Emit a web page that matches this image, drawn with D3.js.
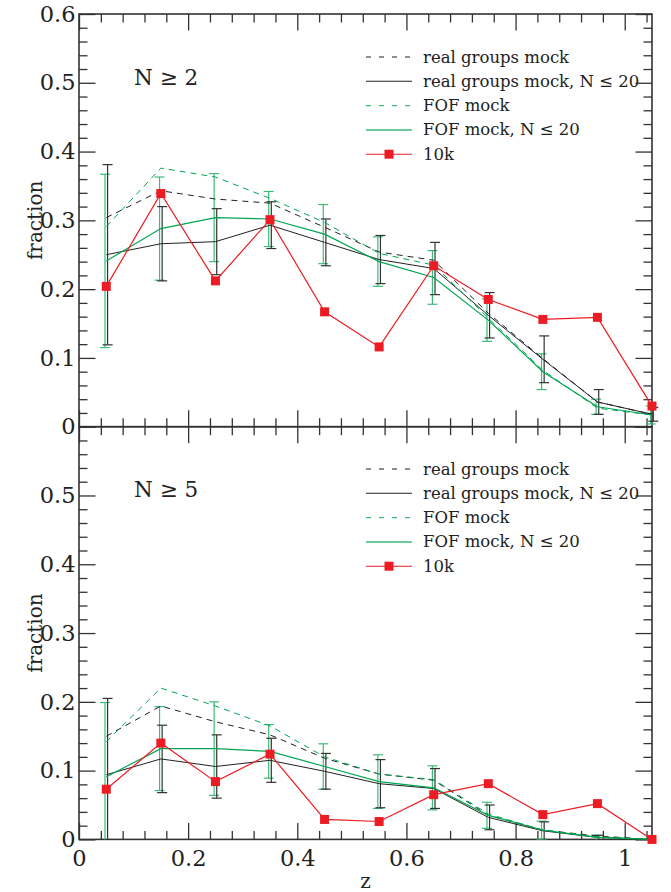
<!DOCTYPE html>
<html>
<head>
<meta charset="utf-8">
<script src="https://cdn.jsdelivr.net/npm/d3@7"></script>
<style>
  html, body { margin: 0; padding: 0; background: #fff; }
  svg { display: block; }
  text { font-family: "DejaVu Serif", "Liberation Serif", serif; fill: #222; }
</style>
</head>
<body>
<svg id="chart" width="671" height="892"></svg>
<script>
// ---------- DATA ----------
const zBins = [0.05, 0.15, 0.25, 0.35, 0.45, 0.55, 0.65, 0.75, 0.85, 0.95, 1.05];

// Panel 1: N >= 2
const realAll2   = [0.304, 0.343, 0.331, 0.325, 0.290, 0.254, 0.242, 0.165, 0.099, 0.036, 0.018];
const realN20_2  = [0.250, 0.266, 0.269, 0.293, 0.268, 0.243, 0.230, 0.162, 0.098, 0.036, 0.018];
const realErr2   = [0.131, 0.054, 0.048, 0.034, 0.034, 0.035, 0.038, 0.033, 0.034, 0.018, 0.010];
const fofAll2    = [0.291, 0.376, 0.363, 0.332, 0.297, 0.252, 0.235, 0.158, 0.082, 0.027, 0.017];
const fofN20_2   = [0.241, 0.288, 0.304, 0.302, 0.280, 0.240, 0.217, 0.155, 0.080, 0.029, 0.017];
const fofErr2    = [0.126, 0.075, 0.064, 0.040, 0.043, 0.036, 0.039, 0.031, 0.026, 0.011, 0.013];
const tenK2      = [0.204, 0.339, 0.212, 0.301, 0.167, 0.116, 0.234, 0.185, 0.156, 0.159, 0.030];

// Panel 2: N >= 5
const realAll5   = [0.150, 0.194, 0.171, 0.152, 0.118, 0.095, 0.086, 0.035, 0.0135, 0.005, 0.0];
const realN20_5  = [0.094, 0.117, 0.106, 0.115, 0.099, 0.081, 0.074, 0.032, 0.0125, 0.003, 0.0];
const realErr5   = [0.111, 0.049, 0.046, 0.032, 0.026, 0.035, 0.029, 0.018, 0.013, 0.003, 0.0];
const fofAll5    = [0.142, 0.220, 0.194, 0.165, 0.120, 0.095, 0.087, 0.037, 0.0135, 0.004, 0.0];
const fofN20_5   = [0.091, 0.132, 0.132, 0.128, 0.106, 0.084, 0.075, 0.035, 0.0135, 0.003, 0.0];
const fofErr5    = [0.108, 0.061, 0.068, 0.039, 0.033, 0.039, 0.032, 0.019, 0.013, 0.003, 0.0];
const tenK5      = [0.073, 0.140, 0.084, 0.124, 0.029, 0.026, 0.065, 0.081, 0.036, 0.052, 0.0];

const panelLabels = ["N \u2265 2", "N \u2265 5"];
const legendLabels = ["real groups mock", "real groups mock, N \u2264 20", "FOF mock", "FOF mock, N \u2264 20", "10k"];
const xTickValues = [0, 0.2, 0.4, 0.6, 0.8, 1];
const yTickValuesTop = [0, 0.1, 0.2, 0.3, 0.4, 0.5, 0.6];
const yTickValuesBottom = [0, 0.1, 0.2, 0.3, 0.4, 0.5];

// ---------- LAYOUT ----------
const left = 79, right = 652;
const panelTop = [14, 426.7];
const panelH = 412.7;
const BLACK = "#222", GREEN = "#00a651", GREEN_ERR = "#3dbb78", RED = "#ed1c24", FRAME = "#333";
const TICK_FONT = 22.5;

const svg = d3.select("#chart");
const x = d3.scaleLinear().domain([0, 1.05]).range([left, right]);

const panels = [
  { label: panelLabels[0], realAll: realAll2, realN20: realN20_2, realErr: realErr2, fofAll: fofAll2, fofN20: fofN20_2, fofErr: fofErr2, tenK: tenK2, yTicks: yTickValuesTop, legendY: 57, labelDy: 71 },
  { label: panelLabels[1], realAll: realAll5, realN20: realN20_5, realErr: realErr5, fofAll: fofAll5, fofN20: fofN20_5, fofErr: fofErr5, tenK: tenK5, yTicks: yTickValuesBottom, legendY: 469, labelDy: 70 }
];

panels.forEach((p, i) => {
  const top = panelTop[i];
  const bottom = top + panelH;
  const y = d3.scaleLinear().domain([0, 0.6]).range([bottom, top]);
  const g = svg.append("g");

  // ticks (all inward)
  const minorX = d3.range(0, 1.05 + 1e-9, 0.04).filter(v => Math.abs(v / 0.2 - Math.round(v / 0.2)) > 1e-6);
  const minorY = d3.range(0, 0.6 + 1e-9, 0.02).filter(v => Math.abs(v / 0.1 - Math.round(v / 0.1)) > 1e-6);
  const majorLen = 16.5, minorLen = 8.5;

  const axBottom = d3.axisBottom(x).tickValues(xTickValues).tickSize(-majorLen).tickFormat(d3.format("~g")).tickPadding(10.5);
  const axBottomMinor = d3.axisBottom(x).tickValues(minorX).tickSize(-minorLen).tickFormat("");
  const axTop = d3.axisTop(x).tickValues(xTickValues).tickSize(-majorLen).tickFormat("");
  const axTopMinor = d3.axisTop(x).tickValues(minorX).tickSize(-minorLen).tickFormat("");
  const axLeft = d3.axisLeft(y).tickValues(p.yTicks).tickSize(-majorLen).tickFormat(d3.format("~g")).tickPadding(3.5);
  const axLeftMajorExtra = d3.axisLeft(y).tickValues(i === 1 ? [0.6] : []).tickSize(-majorLen).tickFormat("");
  const axLeftMinor = d3.axisLeft(y).tickValues(minorY).tickSize(-minorLen).tickFormat("");
  const axRight = d3.axisRight(y).tickValues(d3.range(0, 0.61, 0.1)).tickSize(-majorLen).tickFormat("");
  const axRightMinor = d3.axisRight(y).tickValues(minorY).tickSize(-minorLen).tickFormat("");

  const bx = g.append("g").attr("transform", `translate(0,${bottom})`);
  bx.call(axBottom); bx.append("g").call(axBottomMinor);
  if (i === 0) bx.selectAll("text").remove();
  const tx = g.append("g").attr("transform", `translate(0,${top})`);
  tx.call(axTop); tx.append("g").call(axTopMinor);
  const lx = g.append("g").attr("transform", `translate(${left},0)`);
  lx.call(axLeft); lx.append("g").call(axLeftMajorExtra); lx.append("g").call(axLeftMinor);
  const rx = g.append("g").attr("transform", `translate(${right},0)`);
  rx.call(axRight); rx.append("g").call(axRightMinor);

  g.selectAll(".domain").remove();
  g.selectAll(".tick line").attr("stroke", FRAME).attr("stroke-width", 1.3);
  g.selectAll(".tick text").attr("font-size", TICK_FONT).attr("fill", "#222").style("font-family", '"DejaVu Serif", serif');

  // frame
  g.append("rect").attr("x", left).attr("y", top).attr("width", right - left).attr("height", panelH)
    .attr("fill", "none").attr("stroke", FRAME).attr("stroke-width", 1.6);

  // y label
  g.append("text").attr("transform", `translate(42,${(top + bottom) / 2}) rotate(-90)`)
    .attr("text-anchor", "middle").attr("font-size", 20).text("fraction");

  // panel label
  g.append("text").attr("x", 134).attr("y", top + p.labelDy).attr("font-size", 21.5).text(p.label);

  const line = vals => d3.line().x((d, k) => x(zBins[k])).y(d => y(d))(vals);

  // error bars
  const errBars = (center, err, color, dx) => {
    const eb = g.append("g").attr("stroke", color).attr("stroke-width", 1.2);
    zBins.forEach((z, k) => {
      if (err[k] <= 0) return;
      const xc = x(z) + dx;
      const hi = center[k] + err[k];
      const lo = Math.max(0, center[k] - err[k]);
      eb.append("line").attr("x1", xc).attr("x2", xc).attr("y1", y(hi)).attr("y2", y(lo));
      eb.append("line").attr("x1", xc - 5).attr("x2", xc + 5).attr("y1", y(hi)).attr("y2", y(hi));
      if (lo > 0) eb.append("line").attr("x1", xc - 5).attr("x2", xc + 5).attr("y1", y(lo)).attr("y2", y(lo));
    });
  };
  errBars(p.fofN20, p.fofErr, GREEN_ERR, -1.3);
  errBars(p.realN20, p.realErr, "#333", 1.3);

  // lines
  g.append("path").attr("d", line(p.realAll)).attr("fill", "none").attr("stroke", BLACK).attr("stroke-width", 1).attr("stroke-dasharray", "6,5");
  g.append("path").attr("d", line(p.realN20)).attr("fill", "none").attr("stroke", BLACK).attr("stroke-width", 1);
  g.append("path").attr("d", line(p.fofAll)).attr("fill", "none").attr("stroke", GREEN).attr("stroke-width", 1).attr("stroke-dasharray", "6,5");
  g.append("path").attr("d", line(p.fofN20)).attr("fill", "none").attr("stroke", GREEN).attr("stroke-width", 1.2);
  g.append("path").attr("d", line(p.tenK)).attr("fill", "none").attr("stroke", RED).attr("stroke-width", 1.2);
  g.selectAll("rect.sq").data(p.tenK).enter().append("rect").attr("class", "sq")
    .attr("x", (d, k) => x(zBins[k]) - 4.5).attr("y", d => y(d) - 4.5)
    .attr("width", 9).attr("height", 9).attr("fill", RED);

  // legend
  const styles = [
    { c: BLACK, dash: "5,8" }, { c: BLACK, dash: null }, { c: GREEN_ERR, dash: "5,8" }, { c: GREEN_ERR, dash: null, w: 1.5 }, { c: RED, dash: null, sq: true }
  ];
  const lg = g.append("g");
  legendLabels.forEach((lab, k) => {
    const yy = p.legendY + k * 24.3;
    const s = styles[k];
    const ln = lg.append("line").attr("x1", 366).attr("x2", 412).attr("y1", yy).attr("y2", yy)
      .attr("stroke", s.c).attr("stroke-width", s.w || 1.1);
    if (s.dash) ln.attr("stroke-dasharray", s.dash);
    if (s.sq) lg.append("rect").attr("x", 389 - 4.5).attr("y", yy - 4.5).attr("width", 9).attr("height", 9).attr("fill", RED);
    lg.append("text").attr("x", 423).attr("y", yy + 5.5).attr("font-size", 16.5).text(lab);
  });
});

// x label
svg.append("text").attr("x", (left + right) / 2).attr("y", 887.5).attr("text-anchor", "middle").attr("font-size", 20).text("z");
</script>
</body>
</html>
